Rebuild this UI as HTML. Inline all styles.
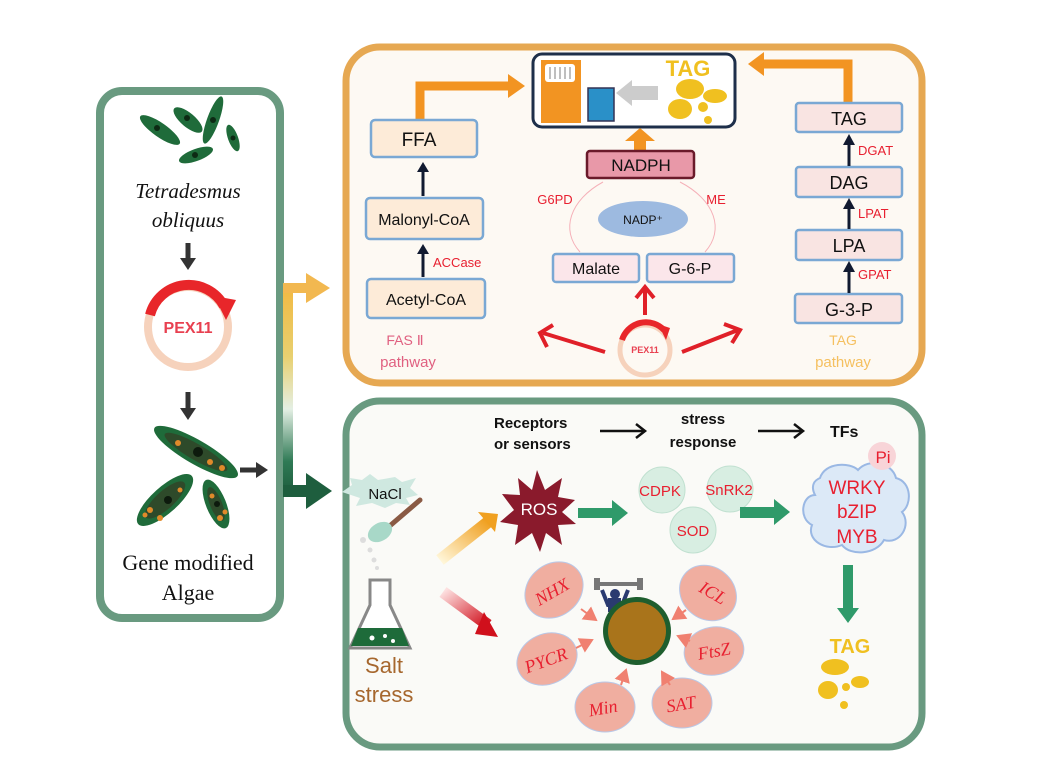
<!DOCTYPE html>
<html><head><meta charset="utf-8"><style>
html,body{margin:0;padding:0;background:#fff;}
svg{display:block;}
text{font-family:"Liberation Sans",sans-serif;}
</style></head><body>
<svg width="1037" height="772" viewBox="0 0 1037 772" xmlns="http://www.w3.org/2000/svg">
<defs>
<linearGradient id="vg" x1="0" y1="0" x2="0" y2="1">
<stop offset="0" stop-color="#f2b840"/><stop offset="0.35" stop-color="#e8d070"/><stop offset="0.6" stop-color="#e4efe4"/><stop offset="0.85" stop-color="#2f7a55"/><stop offset="1" stop-color="#1e5e3e"/></linearGradient>
<linearGradient id="og" x1="0" y1="1" x2="1" y2="0"><stop offset="0" stop-color="#fff6d8"/><stop offset="1" stop-color="#f0a020"/></linearGradient>
<linearGradient id="rg" x1="0" y1="0" x2="1" y2="1"><stop offset="0" stop-color="#fde0e0"/><stop offset="1" stop-color="#d0101c"/></linearGradient>
<marker id="ah" markerWidth="8" markerHeight="8" refX="6" refY="4" orient="auto"><path d="M0,0 L7,4 L0,8 z" fill="#f08070"/></marker>
</defs>

<!-- left panel -->
<rect x="100" y="91" width="180" height="527" rx="22" fill="#fff" stroke="#699a80" stroke-width="8"/>
<g fill="#1f6b3a">
<ellipse cx="160" cy="130" rx="24" ry="7" transform="rotate(35 160 130)"/>
<ellipse cx="188" cy="120" rx="18" ry="7" transform="rotate(40 188 120)"/>
<ellipse cx="213" cy="120" rx="25" ry="6" transform="rotate(-70 213 120)"/>
<ellipse cx="233" cy="138" rx="14" ry="5" transform="rotate(70 233 138)"/>
<ellipse cx="196" cy="155" rx="18" ry="6" transform="rotate(-20 196 155)"/>
</g>
<g fill="#0d2a14"><circle cx="157" cy="128" r="3"/><circle cx="187" cy="118" r="3"/><circle cx="213" cy="120" r="3"/><circle cx="233" cy="138" r="2.5"/><circle cx="195" cy="155" r="3"/></g>
<text x="188" y="198" font-size="21" font-style="italic" text-anchor="middle" fill="#111" style="font-family:'Liberation Serif',serif">Tetradesmus</text>
<text x="188" y="227" font-size="21" font-style="italic" text-anchor="middle" fill="#111" style="font-family:'Liberation Serif',serif">obliquus</text>
<path d="M188,243 V260" stroke="#333" stroke-width="5"/><path d="M180,258 L196,258 L188,270z" fill="#333"/>
<circle cx="188" cy="327" r="40" fill="none" stroke="#f6d2bc" stroke-width="8"/>
<path d="M150,315 A40,40 0 0 1 224,306" fill="none" stroke="#e8262a" stroke-width="10"/>
<path d="M214,296 L236,300 L226,320 z" fill="#e8262a"/>
<text x="188" y="333" font-size="16" font-weight="bold" text-anchor="middle" fill="#e84050">PEX11</text>
<path d="M188,392 V410" stroke="#333" stroke-width="5"/><path d="M180,408 L196,408 L188,420z" fill="#333"/>
<g fill="#1f6b3a">
<ellipse cx="196" cy="452" rx="48" ry="12" transform="rotate(30 196 452)"/>
<ellipse cx="165" cy="500" rx="36" ry="13" transform="rotate(-42 165 500)"/>
<ellipse cx="216" cy="504" rx="26" ry="10" transform="rotate(68 216 504)"/>
</g>
<g fill="#2e4a2a"><ellipse cx="196" cy="452" rx="36" ry="8" transform="rotate(30 196 452)"/><ellipse cx="165" cy="500" rx="26" ry="9" transform="rotate(-42 165 500)"/><ellipse cx="216" cy="504" rx="18" ry="6" transform="rotate(68 216 504)"/></g>
<g fill="#0d1a0d"><circle cx="198" cy="452" r="5"/><circle cx="168" cy="500" r="4"/><circle cx="217" cy="504" r="3"/></g>
<g fill="#e08a2a"><circle cx="178" cy="443" r="3"/><circle cx="210" cy="462" r="3"/><circle cx="222" cy="468" r="3"/><circle cx="150" cy="510" r="3"/><circle cx="160" cy="518" r="3"/><circle cx="180" cy="490" r="2.5"/><circle cx="220" cy="518" r="3"/><circle cx="212" cy="496" r="2.5"/><circle cx="145" cy="515" r="2.5"/><circle cx="225" cy="512" r="2.5"/></g>
<path d="M240,470 H258" stroke="#333" stroke-width="5"/><path d="M256,462 L268,470 L256,478z" fill="#333"/>
<text x="188" y="570" font-size="22" text-anchor="middle" fill="#111" style="font-family:'Liberation Serif',serif">Gene modified</text>
<text x="188" y="600" font-size="22" text-anchor="middle" fill="#111" style="font-family:'Liberation Serif',serif">Algae</text>

<!-- gradient connector -->
<rect x="283" y="283" width="10" height="210" fill="url(#vg)"/>
<rect x="283" y="283" width="25" height="10" fill="#f2b850"/>
<path d="M306,273 L330,288 L306,303z" fill="#f2b850"/>
<rect x="283" y="485" width="25" height="12" fill="#1e5e3e"/>
<path d="M306,473 L332,491 L306,509z" fill="#1e5e3e"/>

<!-- top panel -->
<rect x="346" y="47" width="576" height="336" rx="34" fill="#fdf9f3" stroke="#e6a852" stroke-width="7"/>
<rect x="533" y="54" width="202" height="73" rx="9" fill="#fff" stroke="#1e2f4a" stroke-width="3"/>
<rect x="541" y="60" width="40" height="63" fill="#f29422"/>
<rect x="545" y="64" width="30" height="18" rx="3" fill="#fff"/>
<g stroke="#aaa" stroke-width="1.5"><path d="M550,67 V79 M555,67 V79 M560,67 V79 M565,67 V79 M570,67 V79"/></g>
<rect x="588" y="88" width="26" height="33" fill="#2a90c8" stroke="#335" stroke-width="1.5"/>
<rect x="630" y="86" width="28" height="14" fill="#ccc"/><path d="M632,80 L616,93 L632,106z" fill="#ccc"/>
<text x="688" y="76" font-size="22" font-weight="bold" text-anchor="middle" fill="#f0c020">TAG</text>
<g fill="#f0c020"><ellipse cx="690" cy="89" rx="14" ry="10"/><ellipse cx="715" cy="96" rx="12" ry="7"/><ellipse cx="680" cy="109" rx="12" ry="10"/><circle cx="703" cy="107" r="5"/><circle cx="708" cy="120" r="4"/></g>
<path d="M420,120 V86 H510" fill="none" stroke="#f29422" stroke-width="9"/>
<path d="M508,74 L525,86 L508,98z" fill="#f29422"/>
<path d="M848,103 V64 H762" fill="none" stroke="#f29422" stroke-width="9"/>
<path d="M764,52 L748,64 L764,76z" fill="#f29422"/>
<rect x="634" y="140" width="12" height="10" fill="#f29422"/><path d="M625,141 L640,128 L655,141z" fill="#f29422"/>
<g stroke="#7aa8d4" stroke-width="2.5" fill="#fdebd8">
<rect x="371" y="120" width="106" height="37" rx="4"/>
<rect x="366" y="198" width="117" height="41" rx="4"/>
<rect x="367" y="279" width="118" height="39" rx="4"/>
</g>
<text x="419" y="146" font-size="19" text-anchor="middle" fill="#111">FFA</text>
<text x="424" y="225" font-size="16" text-anchor="middle" fill="#111">Malonyl-CoA</text>
<text x="426" y="305" font-size="16" text-anchor="middle" fill="#111">Acetyl-CoA</text>
<g stroke="#111a30" stroke-width="3"><path d="M423,196 V170"/><path d="M423,277 V252"/></g>
<g fill="#111a30"><path d="M417,172 L423,162 L429,172z"/><path d="M417,254 L423,244 L429,254z"/></g>
<text x="433" y="267" font-size="13" fill="#e82030">ACCase</text>
<text x="405" y="345" font-size="14" text-anchor="middle" fill="#e06080">FAS Ⅱ</text>
<text x="408" y="367" font-size="15" text-anchor="middle" fill="#e06080">pathway</text>
<rect x="587" y="151" width="107" height="27" rx="3" fill="#e898a8" stroke="#6a1a2a" stroke-width="2.5"/>
<text x="641" y="171" font-size="17" text-anchor="middle" fill="#111">NADPH</text>
<text x="555" y="204" font-size="13" text-anchor="middle" fill="#e82030">G6PD</text>
<text x="716" y="204" font-size="13" text-anchor="middle" fill="#e82030">ME</text>
<ellipse cx="643" cy="219" rx="45" ry="18" fill="#9dbae0"/>
<text x="643" y="224" font-size="12" text-anchor="middle" fill="#111">NADP⁺</text>
<path d="M580,252 C560,230 570,200 603,182" fill="none" stroke="#f5b0b8" stroke-width="1"/>
<path d="M705,252 C725,230 715,200 680,182" fill="none" stroke="#f5b0b8" stroke-width="1"/>
<g stroke="#7aa8d4" stroke-width="2.5" fill="#fbe6ea">
<rect x="553" y="254" width="86" height="28" rx="3"/>
<rect x="647" y="254" width="87" height="28" rx="3"/>
</g>
<text x="596" y="274" font-size="16" text-anchor="middle" fill="#111">Malate</text>
<text x="690" y="274" font-size="16" text-anchor="middle" fill="#111">G-6-P</text>
<circle cx="645" cy="350" r="25" fill="none" stroke="#f6d2bc" stroke-width="5"/>
<path d="M622,340 A25,25 0 0 1 664,330" fill="none" stroke="#e8262a" stroke-width="6"/>
<path d="M658,324 L670,328 L666,340z" fill="#e8262a"/>
<text x="645" y="353" font-size="9" font-weight="bold" text-anchor="middle" fill="#e84050">PEX11</text>
<g stroke="#e02028" stroke-width="4" fill="none">
<path d="M645,315 V288"/><path d="M636,298 L645,287 L654,298"/>
<path d="M605,352 L543,333"/><path d="M553,325 L540,333 L547,347"/>
<path d="M682,352 L738,330"/><path d="M724,324 L740,330 L732,343"/>
</g>
<g stroke="#7aa8d4" stroke-width="2.5" fill="#f9e4e2">
<rect x="796" y="103" width="106" height="29" rx="3"/>
<rect x="796" y="167" width="106" height="30" rx="3"/>
<rect x="796" y="230" width="106" height="30" rx="3"/>
<rect x="795" y="294" width="107" height="29" rx="3"/>
</g>
<text x="849" y="125" font-size="18" text-anchor="middle" fill="#111">TAG</text>
<text x="849" y="189" font-size="18" text-anchor="middle" fill="#111">DAG</text>
<text x="849" y="252" font-size="18" text-anchor="middle" fill="#111">LPA</text>
<text x="849" y="316" font-size="18" text-anchor="middle" fill="#111">G-3-P</text>
<g stroke="#111a30" stroke-width="3"><path d="M849,166 V143"/><path d="M849,229 V207"/><path d="M849,293 V270"/></g>
<g fill="#111a30"><path d="M843,145 L849,134 L855,145z"/><path d="M843,209 L849,198 L855,209z"/><path d="M843,272 L849,261 L855,272z"/></g>
<text x="858" y="155" font-size="13" fill="#e82030">DGAT</text>
<text x="858" y="218" font-size="13" fill="#e82030">LPAT</text>
<text x="858" y="279" font-size="13" fill="#e82030">GPAT</text>
<text x="843" y="345" font-size="14" text-anchor="middle" fill="#f5c060">TAG</text>
<text x="843" y="367" font-size="15" text-anchor="middle" fill="#f5c060">pathway</text>

<!-- bottom panel -->
<rect x="346" y="401" width="576" height="346" rx="34" fill="#fafaf7" stroke="#699a80" stroke-width="7"/>
<text x="494" y="428" font-size="15" font-weight="bold" fill="#111">Receptors</text>
<text x="494" y="449" font-size="15" font-weight="bold" fill="#111">or sensors</text>
<text x="703" y="424" font-size="15" font-weight="bold" text-anchor="middle" fill="#111">stress</text>
<text x="703" y="447" font-size="15" font-weight="bold" text-anchor="middle" fill="#111">response</text>
<text x="830" y="437" font-size="16" font-weight="bold" fill="#111">TFs</text>
<g stroke="#111" stroke-width="2.5" fill="none"><path d="M600,431 H644"/><path d="M636,424 L645,431 L636,438"/><path d="M758,431 H802"/><path d="M794,424 L803,431 L794,438"/></g>
<path d="M342,492 L352,485 L350,478 L362,480 L370,474 L378,480 L395,477 L402,482 L416,478 L410,488 L418,495 L406,498 L410,505 L396,503 L385,508 L372,503 L356,506 L360,498z" fill="#cfe8e0"/>
<text x="385" y="499" font-size="15" text-anchor="middle" fill="#111">NaCl</text>
<path d="M385,530 L420,500" stroke="#8a5a44" stroke-width="5" stroke-linecap="round"/>
<ellipse cx="380" cy="532" rx="13" ry="9" fill="#a8d8c8" transform="rotate(-30 380 532)"/>
<g fill="#ddd"><circle cx="363" cy="540" r="3"/><circle cx="370" cy="550" r="2.5"/><circle cx="374" cy="560" r="2.5"/><circle cx="377" cy="568" r="2"/></g>
<path d="M370,580 H390 V605 L410,648 H350 L370,605z" fill="#fff" stroke="#888" stroke-width="3"/>
<path d="M358,628 H402 L409,646 H351z" fill="#1e6b3a"/>
<g fill="#fff"><circle cx="372" cy="638" r="2.5"/><circle cx="385" cy="636" r="2"/><circle cx="393" cy="641" r="2"/></g>
<text x="384" y="673" font-size="22" text-anchor="middle" fill="#a6672e">Salt</text>
<text x="384" y="702" font-size="22" text-anchor="middle" fill="#a6672e">stress</text>
<path d="M440,560 L488,522" stroke="url(#og)" stroke-width="12"/>
<path d="M478,512 L498,514 L495,532z" fill="#f0a020"/>
<path d="M443,592 L488,625" stroke="url(#rg)" stroke-width="12"/>
<path d="M484,612 L498,637 L475,634z" fill="#d0101c"/>
<path d="M537,470 L545,490 L562,478 L558,497 L575,500 L562,512 L576,524 L558,525 L562,545 L546,533 L540,552 L532,533 L515,545 L518,525 L500,522 L514,510 L502,494 L520,495 L518,478 L532,490z" fill="#8a1a2c"/>
<text x="539" y="515" font-size="17" text-anchor="middle" fill="#fff">ROS</text>
<rect x="578" y="508" width="36" height="10" fill="#2f9a6a"/><path d="M612,500 L628,513 L612,526z" fill="#2f9a6a"/>
<g fill="#d8eee2" stroke="#c0e0d0" stroke-width="1"><circle cx="662" cy="490" r="23"/><circle cx="730" cy="489" r="23"/><circle cx="693" cy="530" r="23"/></g>
<text x="660" y="496" font-size="15" text-anchor="middle" fill="#e82030">CDPK</text>
<text x="729" y="495" font-size="15" text-anchor="middle" fill="#e82030">SnRK2</text>
<text x="693" y="536" font-size="15" text-anchor="middle" fill="#e82030">SOD</text>
<rect x="740" y="507" width="36" height="11" fill="#2f9a6a"/><path d="M774,499 L790,512 L774,525z" fill="#2f9a6a"/>
<g fill="#dce9f7" stroke="#9ab8e4" stroke-width="2">
<path d="M820,478 C825,462 850,462 858,470 C868,458 892,462 896,478 C912,482 912,505 902,512 C912,525 900,545 884,540 C876,555 850,556 842,545 C826,552 806,540 812,525 C798,518 802,495 815,495 C810,485 815,480 820,478z"/>
</g>
<circle cx="882" cy="456" r="14" fill="#f8d4d8"/>
<text x="883" y="463" font-size="17" text-anchor="middle" fill="#e82030">Pi</text>
<text x="857" y="494" font-size="19" text-anchor="middle" fill="#e82030">WRKY</text>
<text x="857" y="518" font-size="19" text-anchor="middle" fill="#e82030">bZIP</text>
<text x="857" y="543" font-size="19" text-anchor="middle" fill="#e82030">MYB</text>
<rect x="843" y="565" width="10" height="45" fill="#2f9a6a"/><path d="M837,608 L848,623 L859,608z" fill="#2f9a6a"/>
<text x="850" y="653" font-size="20" font-weight="bold" text-anchor="middle" fill="#f0c020">TAG</text>
<g fill="#f0c020"><ellipse cx="835" cy="667" rx="14" ry="8"/><ellipse cx="860" cy="682" rx="9" ry="6"/><ellipse cx="828" cy="690" rx="10" ry="9"/><circle cx="846" cy="687" r="4"/><circle cx="844" cy="705" r="4"/></g>
<rect x="598" y="582" width="42" height="4" fill="#777"/><rect x="594" y="578" width="6" height="12" fill="#777"/><rect x="637" y="578" width="6" height="12" fill="#777"/>
<circle cx="615" cy="594" r="5" fill="#2a3a70"/>
<path d="M602,590 L608,605 L622,605 L628,590" stroke="#2a3a70" stroke-width="4" fill="none"/>
<rect x="608" y="598" width="13" height="14" fill="#2a3a70"/>
<circle cx="637" cy="631" r="34" fill="#1e5e2e"/>
<circle cx="637" cy="631" r="29" fill="#c27818" opacity="0.85"/>
<g fill="#f0aea0" stroke="#b8c8e8" stroke-width="1">
<ellipse cx="554" cy="590" rx="31" ry="26" transform="rotate(-40 554 590)"/>
<ellipse cx="708" cy="593" rx="30" ry="26" transform="rotate(40 708 593)"/>
<ellipse cx="547" cy="659" rx="31" ry="25" transform="rotate(-25 547 659)"/>
<ellipse cx="714" cy="651" rx="30" ry="24" transform="rotate(-10 714 651)"/>
<ellipse cx="605" cy="707" rx="30" ry="25"/>
<ellipse cx="682" cy="703" rx="30" ry="25"/>
</g>
<g font-size="18" font-style="italic" fill="#e82030" text-anchor="middle">
<text x="555" y="597" transform="rotate(-30 555 597)" style="font-family:'Liberation Serif',serif">NHX</text>
<text x="710" y="598" transform="rotate(30 710 598)" style="font-family:'Liberation Serif',serif">ICL</text>
<text x="548" y="666" transform="rotate(-20 548 666)" style="font-family:'Liberation Serif',serif">PYCR</text>
<text x="715" y="657" transform="rotate(-10 715 657)" style="font-family:'Liberation Serif',serif">FtsZ</text>
<text x="604" y="714" transform="rotate(-10 604 714)" style="font-family:'Liberation Serif',serif">Min</text>
<text x="682" y="710" transform="rotate(-10 682 710)" style="font-family:'Liberation Serif',serif">SAT</text>
</g>
<g stroke="#f08070" stroke-width="2" marker-end="url(#ah)">
<path d="M581,609 L596,620"/><path d="M686,610 L673,619"/><path d="M576,648 L592,640"/><path d="M690,641 L678,636"/><path d="M621,685 L626,670"/><path d="M670,685 L662,672"/>
</g>
</svg>
</body></html>
